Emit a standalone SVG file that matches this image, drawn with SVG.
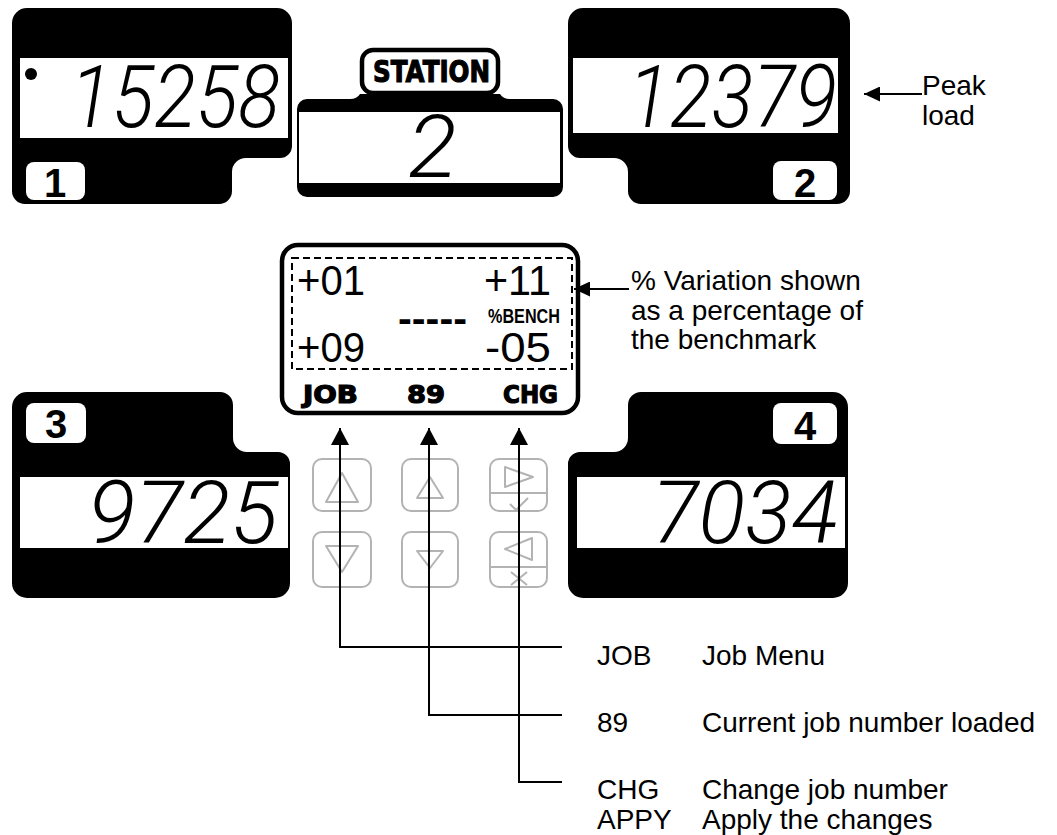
<svg xmlns="http://www.w3.org/2000/svg" width="1057" height="835" viewBox="0 0 1057 835">
<defs>
<style>
.panel{fill:#000}
.win{fill:#fff}
.seg{font-family:Roboto,"Open Sans","DejaVu Sans",sans-serif;font-style:italic;font-weight:300;font-size:87px;fill:#000}
.badge{fill:#fff}
.bnum{font-family:"Liberation Sans",Arial,sans-serif;font-weight:700;font-size:40px;text-anchor:middle;fill:#000}
.lbl{font-family:"Liberation Sans",Arial,sans-serif;font-size:28px;fill:#000}
.lcdt{font-family:"Liberation Sans",Arial,sans-serif;font-size:42px;fill:#000}
.heavy{font-family:"DejaVu Sans","Liberation Sans",sans-serif;font-weight:700;fill:#000;stroke:#000;stroke-width:1.2}
.btn{fill:none;stroke:#b3b3b3;stroke-width:2;stroke-linejoin:round}
.conn{fill:none;stroke:#000;stroke-width:2}
</style>
<marker id="ah" markerUnits="userSpaceOnUse" markerWidth="18" markerHeight="18" refX="17" refY="9" orient="auto" viewBox="0 0 18 18">
<path d="M0,0 L17,9 L0,18 Z" fill="#000"/>
</marker>
<marker id="ahs" markerUnits="userSpaceOnUse" markerWidth="17" markerHeight="15" refX="16" refY="7.5" orient="auto" viewBox="0 0 17 15">
<path d="M0,0 L16,7.5 L0,15 Z" fill="#000"/>
</marker>
</defs>
<rect width="1057" height="835" fill="#fff"/>

<g id="panel1">
<path class="panel" d="M27,8 H277 A15,15 0 0 1 292,23 V146 A12,12 0 0 1 280,158 H246 A14,14 0 0 0 232,172 V191 A13,13 0 0 1 219,204 H25 A13,13 0 0 1 12,191 V23 A15,15 0 0 1 27,8 Z"/>
<rect class="win" x="20" y="58" width="268" height="80"/>
<circle cx="31" cy="74" r="6" fill="#000"/>
<text class="seg" x="70" y="127" textLength="210" lengthAdjust="spacingAndGlyphs">15258</text>
<rect class="badge" x="26" y="162" width="59" height="38" rx="8"/>
<text class="bnum" x="55" y="197">1</text>
</g>

<g id="station">
<path class="panel" d="M307,99 H350 Q357,99 360,94 H500 Q503,99 510,99 H553 A10,10 0 0 1 563,109 V187 A10,10 0 0 1 553,197 H307 A10,10 0 0 1 297,187 V109 A10,10 0 0 1 307,99 Z"/>
<rect class="win" x="299" y="112" width="261" height="71"/>
<text class="seg" x="408" y="177" textLength="49" lengthAdjust="spacingAndGlyphs">2</text>
<rect x="362" y="50" width="136" height="43" rx="11" fill="#fff" stroke="#000" stroke-width="4.5"/>
<text class="heavy" x="373" y="82" font-size="30" textLength="117" lengthAdjust="spacingAndGlyphs">STATION</text>
</g>

<g id="panel2">
<path class="panel" d="M583,8 H835 A15,15 0 0 1 850,23 V191 A13,13 0 0 1 837,204 H641 A13,13 0 0 1 628,191 V172 A14,14 0 0 0 614,158 H580 A12,12 0 0 1 568,146 V23 A15,15 0 0 1 583,8 Z"/>
<rect class="win" x="573" y="58" width="265" height="75"/>
<text class="seg" x="628" y="127" textLength="209" lengthAdjust="spacingAndGlyphs">12379</text>
<rect class="badge" x="773" y="161" width="64" height="39" rx="8"/>
<text class="bnum" x="805" y="197">2</text>
</g>

<g id="peak-label">
<text class="lbl" x="922" y="95">Peak</text>
<text class="lbl" x="922" y="125">load</text>
</g>

<g id="panel3">
<path class="panel" d="M27,392 H220 A13,13 0 0 1 233,405 V438 A14,14 0 0 0 247,452 H278 A12,12 0 0 1 290,464 V583 A15,15 0 0 1 275,598 H27 A15,15 0 0 1 12,583 V407 A15,15 0 0 1 27,392 Z"/>
<rect class="win" x="20" y="477" width="268" height="71"/>
<text class="seg" x="88" y="543" textLength="190" lengthAdjust="spacingAndGlyphs">9725</text>
<rect class="badge" x="26" y="403" width="60" height="40" rx="8"/>
<text class="bnum" x="56" y="438">3</text>
</g>

<g id="panel4">
<path class="panel" d="M641,392 H833 A15,15 0 0 1 848,407 V583 A15,15 0 0 1 833,598 H583 A15,15 0 0 1 568,583 V464 A12,12 0 0 1 580,452 H614 A14,14 0 0 0 628,438 V405 A13,13 0 0 1 641,392 Z"/>
<rect class="win" x="577" y="477" width="268" height="71"/>
<text class="seg" x="652" y="543" textLength="186" lengthAdjust="spacingAndGlyphs">7034</text>
<rect class="badge" x="773" y="403" width="64" height="41" rx="8"/>
<text class="bnum" x="805" y="440">4</text>
</g>

<g id="lcd">
<rect x="282" y="245" width="296" height="168" rx="16" fill="#fff" stroke="#000" stroke-width="4.5"/>
<rect x="292" y="258" width="280" height="111" fill="none" stroke="#000" stroke-width="2" stroke-dasharray="7 4"/>
<text class="lcdt" x="297" y="295" textLength="68" lengthAdjust="spacingAndGlyphs">+01</text>
<text class="lcdt" x="484" y="295" textLength="67" lengthAdjust="spacingAndGlyphs">+11</text>
<text x="488" y="323" font-family="Liberation Sans,Arial,sans-serif" font-weight="700" font-size="20" textLength="72" lengthAdjust="spacingAndGlyphs">%BENCH</text>
<text x="398" y="332" font-family="Liberation Sans,Arial,sans-serif" font-weight="700" font-size="40" textLength="69" lengthAdjust="spacingAndGlyphs">-----</text>
<text class="lcdt" x="297" y="362" textLength="68" lengthAdjust="spacingAndGlyphs">+09</text>
<text class="lcdt" x="485" y="362" textLength="66" lengthAdjust="spacingAndGlyphs">-05</text>
<text class="heavy" x="303" y="403" font-size="24" textLength="55" lengthAdjust="spacingAndGlyphs">JOB</text>
<text class="heavy" x="407" y="403" font-size="24" textLength="38" lengthAdjust="spacingAndGlyphs">89</text>
<text class="heavy" x="503" y="403" font-size="24" textLength="55" lengthAdjust="spacingAndGlyphs">CHG</text>
</g>

<g id="variation-label">
<text class="lbl" x="631" y="290" font-size="26.5">% Variation shown</text>
<text class="lbl" x="631" y="319.5" font-size="26.5">as a percentage of</text>
<text class="lbl" x="631" y="349" font-size="26.5">the benchmark</text>
</g>

<g id="btn1">
<rect class="btn" x="313" y="459" width="58" height="52" rx="9"/>
<polygon class="btn" points="326,502 358,502 342,473"/>
<rect class="btn" x="313" y="532" width="58" height="55" rx="9"/>
<polygon class="btn" points="326,546 358,546 342,572"/>
</g>
<g id="btn2">
<rect class="btn" x="402" y="459" width="56" height="52" rx="9"/>
<polygon class="btn" points="417,498 443,498 430,477"/>
<rect class="btn" x="402" y="532" width="56" height="55" rx="9"/>
<polygon class="btn" points="417,551 443,551 430,568"/>
</g>
<g id="btn3">
<rect class="btn" x="490" y="459" width="57" height="52" rx="9"/>
<line class="btn" x1="490" y1="493" x2="547" y2="493"/>
<polygon class="btn" points="505,467 505,487 533,477"/>
<polyline class="btn" points="510,504 516,510 528,498"/>
<rect class="btn" x="490" y="532" width="57" height="55" rx="9"/>
<line class="btn" x1="490" y1="567" x2="547" y2="567"/>
<polygon class="btn" points="532,538 532,560 505,549"/>
<line class="btn" x1="511" y1="572" x2="527" y2="585"/>
<line class="btn" x1="527" y1="572" x2="511" y2="585"/>
</g>

<g id="legend">
<text class="lbl" x="597" y="665">JOB</text>
<text class="lbl" x="702" y="665">Job Menu</text>
<text class="lbl" x="597" y="732">89</text>
<text class="lbl" x="702" y="732">Current job number loaded</text>
<text class="lbl" x="597" y="799">CHG</text>
<text class="lbl" x="702" y="799">Change job number</text>
<text class="lbl" x="597" y="829">APPY</text>
<text class="lbl" x="702" y="829">Apply the changes</text>
</g>

<g id="connectors">
<path class="conn" d="M562,647 H340 V428" marker-end="url(#ah)"/>
<path class="conn" d="M562,715 H429 V428" marker-end="url(#ah)"/>
<path class="conn" d="M562,782 H519 V428" marker-end="url(#ah)"/>
<path class="conn" d="M922,94 H864" marker-end="url(#ahs)"/>
<path class="conn" d="M629,289 H574" marker-end="url(#ahs)"/>
</g>
</svg>
